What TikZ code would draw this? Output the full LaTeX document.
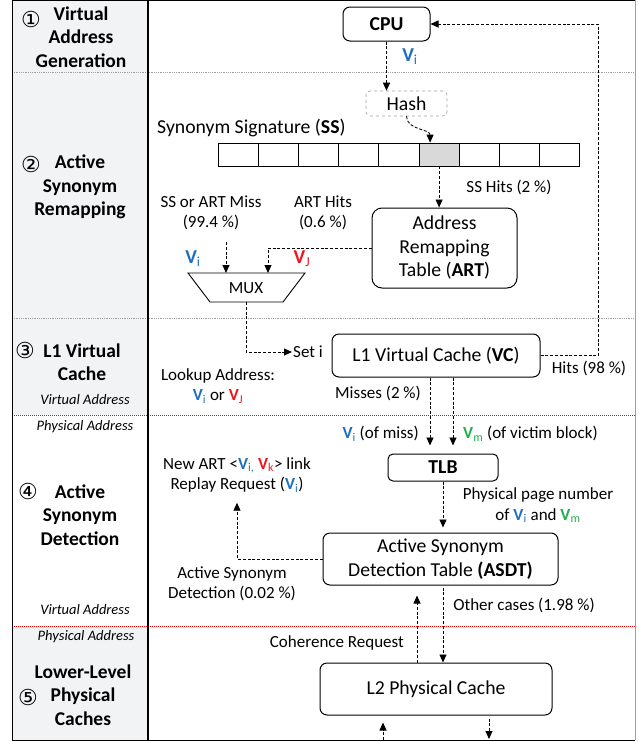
\documentclass[tikz,border=0pt]{standalone}
\usepackage{fontspec}
\setmainfont{Carlito}
\newfontfamily\circfont{DejaVu Sans}
\usetikzlibrary{calc,arrows.meta}

\definecolor{vblue}{HTML}{1F6FC0}
\definecolor{vred}{HTML}{F0141E}
\definecolor{vgreen}{HTML}{1DB04B}
\definecolor{stagebg}{HTML}{F2F3F5}
\definecolor{cellgray}{HTML}{D9D9D9}
\definecolor{sepgray}{HTML}{A0A0A0}

\newcommand{\boxfont}{\fontsize{19.7}{23.5}\selectfont}
\newcommand{\lblfont}{\fontsize{17}{20.5}\selectfont}
\newcommand{\stagefont}{\fontsize{19.5}{23.5}\selectfont\bfseries}
\newcommand{\addrfont}{\fontsize{14.5}{17}\selectfont\itshape}

\newcommand{\Vb}[1]{\textcolor{vblue}{\textbf{V}\textsubscript{#1}}}
\newcommand{\Vr}[1]{\textcolor{vred}{\textbf{V}\textsubscript{#1}}}
\newcommand{\Vg}[1]{\textcolor{vgreen}{\textbf{V}\textsubscript{#1}}}

\begin{document}
\begin{tikzpicture}[x=1pt,y=-1pt]
% Pixel coordinates, y grows downwards.
\useasboundingbox (0,0) rectangle (639,742);

\tikzstyle{box}=[draw,line width=1pt,rounded corners=7pt,font=\boxfont,align=center,inner sep=2pt]
\tikzstyle{flow}=[line width=0.85pt,dash pattern=on 3pt off 1.8pt,-{Triangle[length=8pt,width=7pt]}]
\tikzstyle{lbl}=[font=\lblfont,align=center,inner sep=1pt]
\tikzstyle{stage}=[font=\stagefont,align=center]
\tikzstyle{addr}=[font=\addrfont]
\tikzstyle{circ}=[font=\circfont\fontsize{22}{22}\selectfont,inner sep=0pt]
\tikzstyle{cell}=[draw,line width=0.8pt,minimum width=40.2pt,minimum height=23pt,inner sep=0pt]

% This draws the stage column and the frame.
\fill[stagebg] (12,0) rectangle (147,415);
\fill[stagebg] (12,626) rectangle (147,740);
\draw[sepgray,densely dotted,line width=0.8pt] (12,72) -- (635,72);
\draw[sepgray,densely dotted,line width=0.8pt] (12,318) -- (635,318);
\draw[red,densely dotted,line width=1pt] (12,415) -- (635,415);
\draw[red,densely dotted,line width=1pt] (12,626) -- (635,626);
\draw[line width=0.8pt] (635,0) -- (12,0) -- (12,740) -- (635,740);
\draw[sepgray,line width=0.8pt] (635,0) -- (635,740);
\draw[line width=2pt] (147.5,0) -- (147.5,740);

% This draws the stage names.
\node[circ] (n1) at (31,19) {①};
\node[stage] (s1) at (81,37) {Virtual\\Address\\Generation};
\node[circ] (n2) at (31,164) {②};
\node[stage] (s2) at (80,187) {Active\\Synonym\\Remapping};
\node[circ] (n3) at (25,350) {③};
\node[stage] (s3) at (82,362) {L1 Virtual\\Cache};
\node[addr] (va3) at (85,400) {Virtual Address};
\node[addr] (pa3) at (85,427) {Physical Address};
\node[circ] (n4) at (28,491) {④};
\node[stage] (s4) at (80,515) {Active\\Synonym\\Detection};
\node[addr] (va4) at (85,610) {Virtual Address};
\node[addr] (pa4) at (86,637) {Physical Address};
\node[circ] (n5) at (28,697) {⑤};
\node[stage] (s5) at (83,695) {Lower-Level\\Physical\\Caches};

% This draws the CPU, the hash and the synonym signature.
\node[box,font=\boxfont\bfseries,minimum width=87pt,minimum height=34pt] (CPU) at (386.5,24) {CPU};
\node[lbl,font=\boxfont] (vi) at (410,57) {\Vb{i}};
\node[box,draw=sepgray,dashed,line width=0.6pt,rounded corners=4pt,minimum width=81pt,minimum height=25pt] (Hash) at (406.5,103.5) {Hash};
\node[lbl,font=\boxfont,anchor=west] (sstitle) at (156,128) {Synonym Signature (\textbf{SS})};
\foreach \i/\f in {1/white,2/white,3/white,4/white,5/white,6/cellgray,7/white,8/white,9/white}
  \node[cell,fill=\f] (c\i) at ({218+40.2*(\i-0.5)},154.5) {};

% This draws the remapping table and the MUX.
\node[box,rounded corners=10pt,minimum width=145pt,minimum height=80pt] (ART) at (444.5,248) {Address\\Remapping\\Table (\textbf{ART})};
\node[lbl] (sshit) at (509,187) {SS Hits (2 \%)};
\node[lbl] (miss) at (211,213) {SS or ART Miss\\(99.4 \%)};
\node[lbl] (arthit) at (323,213) {ART Hits\\(0.6 \%)};
\node[lbl,font=\boxfont] (vimux) at (193,259) {\Vb{i}};
\node[lbl,font=\boxfont] (vjmux) at (302,259) {\Vr{J}};
\draw[line width=0.9pt] (188,273) -- (305,273) -- (283,302) -- (210,302) -- cycle;
\node[font=\lblfont] (MUX) at (246,288) {MUX};
\coordinate (missTop) at (226,242);
\coordinate (muxL) at (226,273);
\coordinate (muxR) at (268,273);
\coordinate (muxB) at (246,302);

% This draws the L1 virtual cache.
\node[lbl,anchor=west] (seti) at (292,352) {Set i};
\node[box,minimum width=208pt,minimum height=43pt] (VC) at (436,355.5) {L1 Virtual Cache (\textbf{VC})};
\node[lbl] (vchit) at (589,368) {Hits (98 \%)};
\node[lbl] (lookup) at (218,386) {Lookup Address:\\\Vb{i} or \Vr{J}};
\node[lbl] (vcmiss) at (378,393) {Misses (2 \%)};

% This draws the TLB and the synonym detection table.
\node[lbl,anchor=east] (ofmiss) at (420,434) {\Vb{i} (of miss)};
\node[lbl,anchor=west] (ofvictim) at (462,434) {\Vg{m} (of victim block)};
\node[box,font=\boxfont\bfseries,rounded corners=5pt,minimum width=110pt,minimum height=27pt] (TLB) at (443,467.5) {TLB};
\node[lbl] (ppn) at (538,505.5) {Physical page number\\of \Vb{i} and \Vg{m}};
\node[lbl] (replay) at (237,475) {New ART <\Vb{i,} \Vr{k}> link\\Replay Request (\Vb{i})};
\node[box,minimum width=235pt,minimum height=52pt] (ASDT) at (440.5,559) {Active Synonym\\Detection Table \textbf{(ASDT)}};
\node[lbl] (asd) at (232,584) {Active Synonym\\Detection (0.02 \%)};
\node[lbl] (other) at (524,605) {Other cases (1.98 \%)};
\node[lbl,anchor=east] (coh) at (405,643) {Coherence Request};
\node[box,minimum width=232pt,minimum height=52pt] (L2) at (436,689) {L2 Physical Cache};

% This draws the flows.
\draw[flow] (CPU.south) -- (CPU.south |- Hash.north);
\draw[flow] (Hash.south) to[out=-90,in=90] ($(c6.north)+(-9,0)$);
\draw[flow] (c6.south) -- (c6.south |- ART.north);
\draw[flow] (missTop) -- (muxL);
\draw[flow] (ART.west) -| (muxR);
\draw[flow] (muxB) |- (seti.west);
\draw[flow] (VC.east) -- ++(58,0) |- (CPU.east);
\coordinate (missA) at ($(VC.south)+(-6,0)$);
\coordinate (missB) at ($(VC.south)+(17,0)$);
\draw[flow,shorten >=8pt] (missA) -- (missA |- TLB.north);
\draw[flow,shorten >=8pt] (missB) -- (missB |- TLB.north);
\draw[flow,shorten >=5pt] (TLB.south) -- (TLB.south |- ASDT.north);
\draw[flow,shorten >=9pt] (ASDT.west) -| (replay.south);
\coordinate (cohB) at ($(L2.north)+(-19,0)$);
\coordinate (othA) at ($(ASDT.south)+(2.5,2)$);
\draw[flow,shorten >=10pt] (cohB) -- (cohB |- ASDT.south);
\draw[flow] (othA) -- (othA |- L2.north);
\coordinate (lowIn) at (383,740);
\coordinate (lowOut) at (489,740);
\draw[flow,shorten >=7pt] (lowIn) -- (lowIn |- L2.south);
\draw[flow,shorten <=3pt,shorten >=1pt] (lowOut |- L2.south) -- (lowOut);
\end{tikzpicture}
\end{document}
